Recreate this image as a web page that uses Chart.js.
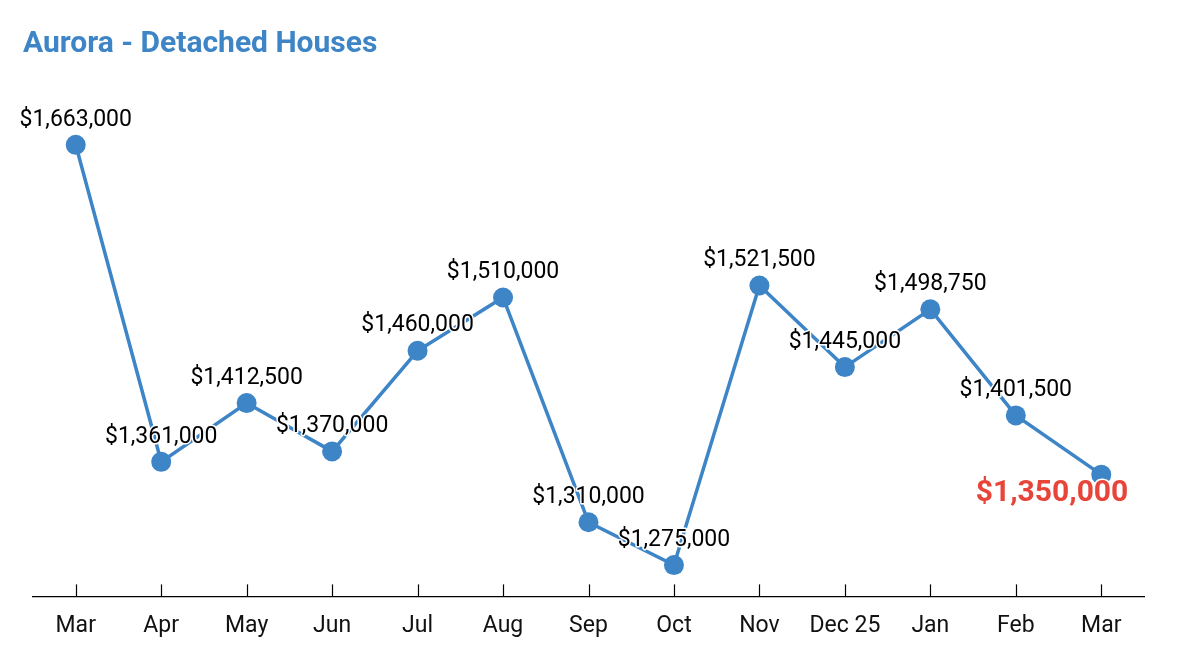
<!DOCTYPE html>
<html>
<head>
<meta charset="utf-8">
<script src="https://cdn.jsdelivr.net/npm/chart.js@4.4.1/dist/chart.umd.min.js"></script>
<style>
  html, body { margin: 0; padding: 0; background: #fff; }
  #wrap { width: 1178px; height: 672px; position: relative; }
</style>
</head>
<body>
<div id="wrap"><canvas id="chart"></canvas></div>
<script>
// data
var months = ["Mar", "Apr", "May", "Jun", "Jul", "Aug", "Sep", "Oct", "Nov", "Dec 25", "Jan", "Feb", "Mar"];
var prices = [1663000, 1361000, 1412500, 1370000, 1460000, 1510000, 1310000, 1275000, 1521500, 1445000, 1498750, 1401500, 1350000];
var yMin = 1250000;
var yMax = 1700000;

var blue = '#3d85c6';
var red = '#e8453a';

function money(v) {
    return '$' + v.toLocaleString('en-US');
}

// value labels above the points, the last one big and red below it
var valueLabels = {
    id: 'valueLabels',
    afterDatasetsDraw: function (chart) {
        var ctx = chart.ctx;
        var meta = chart.getDatasetMeta(0);
        var last = meta.data.length - 1;
        ctx.save();
        ctx.lineJoin = 'round';
        meta.data.forEach(function (pt, i) {
            var txt = money(prices[i]);
            ctx.textBaseline = 'middle';
            if (i === last) {
                ctx.font = 'bold 30px Roboto';
                ctx.textAlign = 'right';
                ctx.strokeStyle = '#fff';
                ctx.lineWidth = 3;
                ctx.strokeText(txt, pt.x + 27, pt.y + 19);
                ctx.fillStyle = red;
                ctx.fillText(txt, pt.x + 27, pt.y + 19);
            } else {
                ctx.font = '23px Roboto';
                ctx.textAlign = 'center';
                ctx.strokeStyle = '#fff';
                ctx.lineWidth = 3;
                ctx.strokeText(txt, pt.x, pt.y - 25);
                ctx.fillStyle = '#000';
                ctx.fillText(txt, pt.x, pt.y - 25);
            }
        });
        ctx.restore();
    }
};

// short tick marks standing up from the x axis
var upTicks = {
    id: 'upTicks',
    afterDraw: function (chart) {
        var x = chart.scales.x;
        var ctx = chart.ctx;
        ctx.save();
        ctx.strokeStyle = '#000';
        ctx.lineWidth = 1.2;
        for (var i = 0; i < x.ticks.length; i++) {
            var px = Math.round(x.getPixelForTick(i)) + 0.5;
            ctx.beginPath();
            ctx.moveTo(px, x.top);
            ctx.lineTo(px, x.top - 12);
            ctx.stroke();
        }
        ctx.restore();
    }
};

var ctx = document.getElementById('chart');

var chart = new Chart(ctx, {
    type: 'line',
    data: {
        labels: months,
        datasets: [{
            data: prices,
            borderColor: blue,
            backgroundColor: blue,
            borderWidth: 3.5,
            pointRadius: 10,
            pointHoverRadius: 10,
            pointBorderWidth: 0,
            pointBackgroundColor: blue,
            tension: 0
        }]
    },
    options: {
        responsive: true,
        maintainAspectRatio: false,
        animation: false,
        layout: {
            padding: { left: 23, right: 34, top: 0, bottom: 16 }
        },
        plugins: {
            legend: { display: false },
            tooltip: { enabled: false },
            title: {
                display: true,
                text: 'Aurora - Detached Houses',
                align: 'start',
                color: blue,
                font: { family: 'Roboto', size: 30, weight: 'bold' },
                padding: { top: 26, bottom: 48 }
            }
        },
        scales: {
            x: {
                offset: true,
                grid: { display: false, drawTicks: false },
                border: { display: true, color: '#000', width: 1.3 },
                ticks: {
                    color: '#111',
                    padding: 16,
                    font: { family: 'Roboto', size: 23 }
                }
            },
            y: {
                type: 'logarithmic',
                min: yMin,
                max: yMax,
                grid: { display: false },
                border: { display: false },
                ticks: { display: false },
                afterFit: function (scale) { scale.width = 10; }
            }
        }
    },
    plugins: [valueLabels, upTicks]
});
</script>
</body>
</html>
